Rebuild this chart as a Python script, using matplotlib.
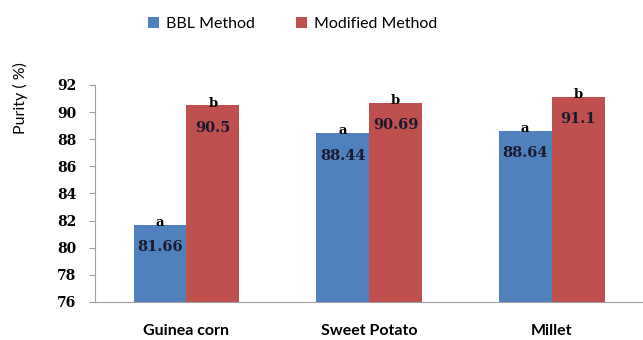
import numpy as np
import matplotlib
matplotlib.use('Agg')
import matplotlib.pyplot as plt

categories = ['Guinea corn', 'Sweet Potato', 'Millet']
series_names = ['BBL Method', 'Modified Method']
bbl_values = [81.66, 88.44, 88.64]
modified_values = [90.5, 90.69, 91.1]
bbl_letters = ['a', 'a', 'a']
modified_letters = ['b', 'b', 'b']
bbl_labels = ['81.66', '88.44', '88.64']
modified_labels = ['90.5', '90.69', '91.1']
y_ticks = [76, 78, 80, 82, 84, 86, 88, 90, 92]

BLUE = '#4F81BD'
RED = '#C0504D'
TEXT = '#1a1a2e'
SERIF = 'DejaVu Serif'
SANS = 'Lato'

fig = plt.figure(figsize=(6.43, 3.4), dpi=100)
ax = fig.add_axes([0.148, 0.112, 0.852, 0.638])

x = np.arange(len(categories))
width = 0.29
bars_a = ax.bar(x - width / 2, bbl_values, width, color=BLUE, label=series_names[0])
bars_b = ax.bar(x + width / 2, modified_values, width, color=RED, label=series_names[1])

for bars, labels, letters in [(bars_a, bbl_labels, bbl_letters), (bars_b, modified_labels, modified_letters)]:
    for bar, lab, let in zip(bars, labels, letters):
        cx = bar.get_x() + bar.get_width() / 2
        top = bar.get_height()
        ax.annotate(lab, (cx, top), xytext=(0, -11), textcoords='offset points',
                    ha='center', va='top', fontsize=10.5, fontweight='bold',
                    family=SERIF, color=TEXT)
        ax.annotate(let, (cx, top), xytext=(0, -3), textcoords='offset points',
                    ha='center', va='bottom', fontsize=9.5, fontweight='bold',
                    family=SERIF, color='black')

ax.set_xlim(-0.5, 2.5)
ax.set_ylim(76, 92)
ax.set_yticks(y_ticks)
ax.set_yticklabels([str(t) for t in y_ticks], fontsize=10, fontweight='bold', family=SERIF)
ax.set_xticks(x)
ax.set_xticklabels(categories, fontsize=11.5, fontweight='bold', family=SANS)
ax.tick_params(axis='x', length=0, pad=16)
ax.tick_params(axis='y', length=4.5, color='#a0a0a0', pad=9)
ax.set_ylabel('Purity ( %)', fontsize=11.5, family=SANS)
ax.yaxis.set_label_coords(-0.122, 0.94)

for s in ['top', 'right']:
    ax.spines[s].set_visible(False)
for s in ['left', 'bottom']:
    ax.spines[s].set_color('#a0a0a0')

fig.legend(handles=[bars_a, bars_b], labels=series_names, loc='center',
           bbox_to_anchor=(0.455, 0.93), ncol=2, frameon=False,
           prop={'family': SANS, 'size': 11.5}, handlelength=0.7,
           handleheight=0.7, columnspacing=2.6, handletextpad=0.4)

fig.savefig('out.png', dpi=100)
